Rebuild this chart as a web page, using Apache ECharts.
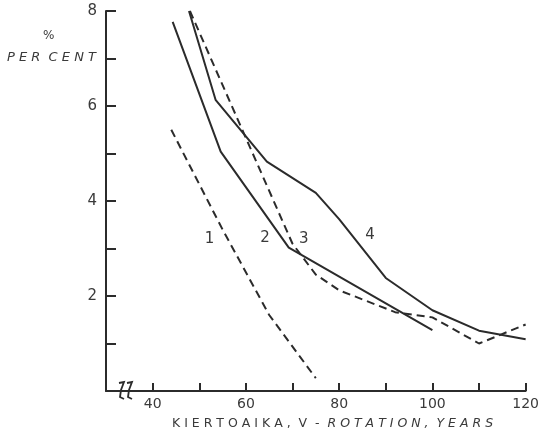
<!DOCTYPE html>
<html><head><meta charset="utf-8">
<script src="https://cdn.jsdelivr.net/npm/echarts@6/dist/echarts.min.js"></script>
<style>html,body{margin:0;padding:0;background:#fff}#c{width:542px;height:436px}</style>
</head><body><div id="c"></div>
<script>
// Curve data [rotation years, percent]
const curve1 = [[44, 5.5], [55, 3.4], [65, 1.6], [75, 0.27]];
const curve2 = [[44.3, 7.77], [54.6, 5.04], [69.2, 3.02], [100, 1.28]];
const curve3 = [[48, 8.0], [70, 3.1], [75, 2.45], [80, 2.12], [92, 1.66], [100, 1.55], [110, 1.0], [120, 1.4]];
const curve4 = [[47.8, 8.0], [53.5, 6.13], [64.5, 4.83], [75, 4.17], [80, 3.62], [90, 2.38], [100, 1.7], [110, 1.27], [120, 1.09]];
const curveNames = ['1', '2', '3', '4'];
const curveLabelX = [52.2, 64.1, 72.4, 86.6];
const curveLabelY = [3.2, 3.22, 3.2, 3.28];
const xTickLabels = [40, 60, 80, 100, 120];
const yTickLabels = [2, 4, 6, 8];

const ink = '#2b2b2b';
const txt = '#3a3a3a';
const chart = echarts.init(document.getElementById('c'));
const curves = [curve1, curve2, curve3, curve4];
const dashed = [true, false, true, false];

const series = curves.map((d, i) => ({
  type: 'line', data: d, symbol: 'none', silent: true,
  lineStyle: { color: ink, width: 2, type: dashed[i] ? [8, 5] : 'solid' },
  markPoint: {
    symbol: 'circle', symbolSize: 0, silent: true,
    label: { show: true, position: 'inside', color: txt, fontSize: 15, fontFamily: 'DejaVu Sans', formatter: curveNames[i] },
    data: [{ coord: [curveLabelX[i], curveLabelY[i]] }]
  }
}));

chart.setOption({
  animation: false,
  backgroundColor: '#fff',
  grid: { left: 106, right: 11, top: 11, bottom: 45 },
  xAxis: {
    type: 'value', min: 30, max: 120, interval: 10,
    axisLine: { lineStyle: { color: ink, width: 2 } },
    axisTick: { inside: true, length: 8, lineStyle: { color: ink, width: 2 } },
    splitLine: { show: false },
    axisLabel: { margin: 6, color: txt, fontSize: 14, fontFamily: 'DejaVu Sans',
      formatter: v => xTickLabels.includes(v) ? String(v) : '' }
  },
  yAxis: {
    type: 'value', min: 0, max: 8, interval: 1,
    axisLine: { lineStyle: { color: ink, width: 2 } },
    axisTick: { inside: true, length: 10, lineStyle: { color: ink, width: 2 } },
    splitLine: { show: false },
    axisLabel: { margin: 9, color: txt, fontSize: 15, fontFamily: 'DejaVu Sans',
      formatter: v => yTickLabels.includes(v) ? String(v) : '' }
  },
  graphic: [
    { type: 'text', left: 43, top: 30, style: { text: '%', fill: txt, font: '12px "DejaVu Sans"' } },
    { type: 'text', left: 7, top: 51, style: { text: 'P E R  C E N T', fill: txt, font: 'italic 13px "DejaVu Sans"' } },
    { type: 'text', left: 172, top: 417, style: { rich: {
        a: { fill: txt, font: '12.5px "DejaVu Sans"' },
        b: { fill: txt, font: 'italic 12.5px "DejaVu Sans"' } },
        text: '{a|K I E R T O A I K A ,  V  -  }{b|R O T A T I O N ,  Y E A R S}' } },
    { type: 'polyline', shape: { points: [[119, 383], [124, 382], [121, 390], [120, 397], [124, 399]] }, style: { stroke: ink, lineWidth: 1.8, fill: null } },
    { type: 'polyline', shape: { points: [[127, 383], [132, 382], [129, 390], [128, 397], [132, 399]] }, style: { stroke: ink, lineWidth: 1.8, fill: null } }
  ],
  series: series
});
</script></body></html>
